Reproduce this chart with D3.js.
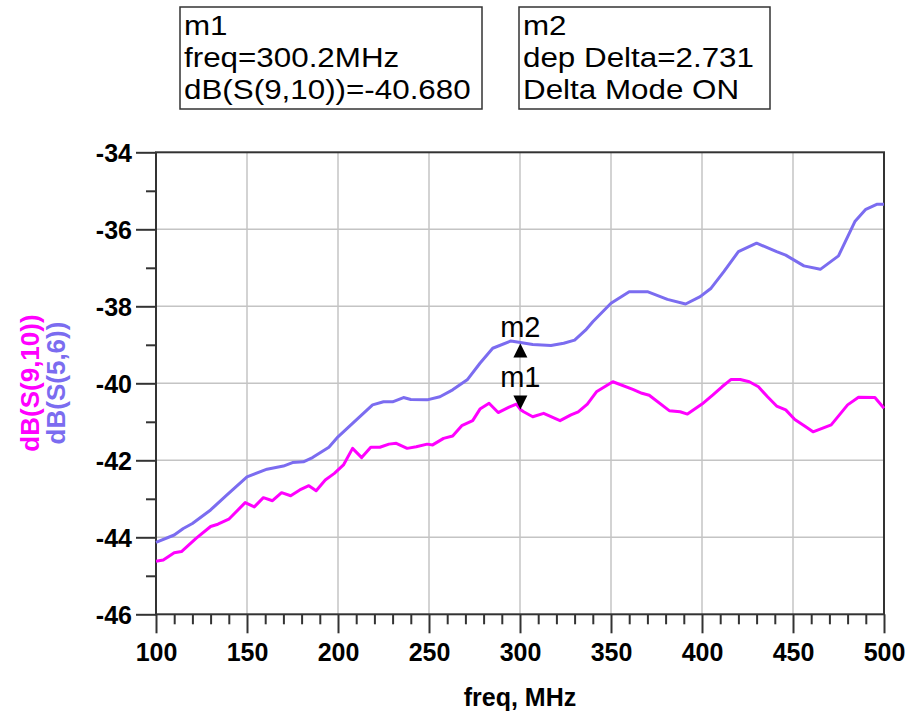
<!DOCTYPE html>
<html><head><meta charset="utf-8">
<script src="https://cdn.jsdelivr.net/npm/d3@7"></script>
<style>
html,body{margin:0;padding:0;background:#fff;}
svg text{font-family:"Liberation Sans",Arial,sans-serif;}
</style></head>
<body>
<svg id="chart" width="910" height="716"></svg>
<script>
// ---- data ----
const freqS910 = [100,104,110,114,122,130,134,140,149,154,159,164,169,174,179,184,188,193,198,203,208,213,218,223,228,232,238,243,249,252,258,263,268,274,278,283,288,294,298,300.2,302,307,313,322,328,332,337,342,351,362,367,371,382,388,392,400,406,411,416,421,426,431,436,441,446,451,457,461,471,480,486,495,500];
const dbS910 = [-44.62,-44.59,-44.40,-44.37,-44.03,-43.72,-43.66,-43.53,-43.10,-43.21,-42.97,-43.05,-42.84,-42.92,-42.77,-42.66,-42.79,-42.51,-42.34,-42.12,-41.69,-41.93,-41.66,-41.66,-41.58,-41.56,-41.69,-41.65,-41.58,-41.60,-41.43,-41.37,-41.10,-40.97,-40.67,-40.52,-40.76,-40.62,-40.54,-40.68,-40.74,-40.87,-40.78,-40.97,-40.82,-40.74,-40.54,-40.22,-39.96,-40.16,-40.26,-40.31,-40.71,-40.74,-40.80,-40.54,-40.30,-40.09,-39.90,-39.90,-39.96,-40.09,-40.35,-40.59,-40.69,-40.94,-41.13,-41.26,-41.08,-40.56,-40.36,-40.37,-40.65];
const freqS56 = [100,110,115,120,130,139,150,161,170,175,181,186,195,200,208,219,225,230,236,240,249,256,263,271,278,285,295,300.2,307,317,324,330,336,340,350,360,370,381,391,399,405,412,420,430,441,446,456,465,475,484,490,496,500];
const dbS56 = [-44.13,-43.94,-43.77,-43.64,-43.29,-42.90,-42.43,-42.23,-42.15,-42.06,-42.04,-41.93,-41.66,-41.39,-41.04,-40.56,-40.48,-40.48,-40.37,-40.42,-40.43,-40.35,-40.17,-39.91,-39.48,-39.09,-38.90,-38.94,-38.99,-39.02,-38.96,-38.88,-38.62,-38.40,-37.92,-37.62,-37.62,-37.82,-37.94,-37.75,-37.53,-37.10,-36.58,-36.36,-36.58,-36.67,-36.95,-37.04,-36.69,-35.80,-35.48,-35.35,-35.35];
const xMajorTicks = [100,150,200,250,300,350,400,450,500];
const xMinorTicks = d3.range(100,501,10);
const yMajorTicks = [-46,-44,-42,-40,-38,-36,-34];
const yMinorTicks = [-45,-43,-41,-39,-37,-35];
const seriesNames = ["dB(S(9,10))","dB(S(5,6))"];
const xTitle = "freq, MHz";
const markerFreq = 300.2;
const marker1Lines = ["m1","freq=300.2MHz","dB(S(9,10))=-40.680"];
const marker2Lines = ["m2","dep Delta=2.731","Delta Mode ON"];

// ---- layout ----
const svg = d3.select("#chart");
const L=156, R=884, T=152.3, B=614.3;
const colMag = "#ff00ff", colBlue = "#7b6cf0";
const x = d3.scaleLinear().domain([100,500]).range([L,R]);
const y = d3.scaleLinear().domain([-46,-34]).range([B,T]);
const fmt = d => String(d);

// grid
const g = svg.append("g");
g.selectAll(".gx").data(xMajorTicks.slice(1,-1)).enter().append("line")
  .attr("x1",d=>x(d)).attr("x2",d=>x(d)).attr("y1",T).attr("y2",B)
  .attr("stroke","#c4c4c4").attr("stroke-width",1.5);
g.selectAll(".gy").data(yMajorTicks.slice(1,-1)).enter().append("line")
  .attr("x1",L).attr("x2",R).attr("y1",d=>y(d)).attr("y2",d=>y(d))
  .attr("stroke","#c4c4c4").attr("stroke-width",1.5);

// minor axes
svg.append("g").attr("transform",`translate(${L},0)`)
  .call(d3.axisLeft(y).tickValues(yMinorTicks).tickSize(10).tickFormat(""))
  .call(a=>a.select(".domain").remove())
  .call(a=>a.selectAll("line").attr("stroke","#333").attr("stroke-width",2));
svg.append("g").attr("transform",`translate(0,${B})`)
  .call(d3.axisBottom(x).tickValues(xMinorTicks.filter(d=>d%50!==0)).tickSize(10).tickFormat(""))
  .call(a=>a.select(".domain").remove())
  .call(a=>a.selectAll("line").attr("stroke","#333").attr("stroke-width",2));

// major axes
svg.append("g").attr("transform",`translate(${L},0)`)
  .call(d3.axisLeft(y).tickValues(yMajorTicks).tickSize(20).tickPadding(4).tickFormat(fmt))
  .call(a=>a.select(".domain").remove())
  .call(a=>a.selectAll("line").attr("stroke","#333").attr("stroke-width",2))
  .call(a=>a.selectAll("text").attr("fill","#000").attr("font-size",25).attr("font-weight","bold")
     .attr("font-family","'Liberation Sans',Arial,sans-serif").attr("dy","0.36em"));
svg.append("g").attr("transform",`translate(0,${B})`)
  .call(d3.axisBottom(x).tickValues(xMajorTicks).tickSize(19).tickPadding(10).tickFormat(fmt))
  .call(a=>a.select(".domain").remove())
  .call(a=>a.selectAll("line").attr("stroke","#333").attr("stroke-width",2))
  .call(a=>a.selectAll("text").attr("fill","#000").attr("font-size",25).attr("font-weight","bold")
     .attr("font-family","'Liberation Sans',Arial,sans-serif").attr("dy","0.71em"));

// frame
svg.append("rect").attr("x",L).attr("y",T).attr("width",R-L).attr("height",B-T)
  .attr("fill","none").attr("stroke","#333").attr("stroke-width",2);

// lines
const line = d3.line().x(d=>x(d[0])).y(d=>y(d[1]));
svg.append("path").datum(d3.zip(freqS56,dbS56)).attr("d",line)
  .attr("fill","none").attr("stroke",colBlue).attr("stroke-width",3).attr("stroke-linejoin","round");
svg.append("path").datum(d3.zip(freqS910,dbS910)).attr("d",line)
  .attr("fill","none").attr("stroke",colMag).attr("stroke-width",3).attr("stroke-linejoin","round");

// markers
const mx = x(markerFreq);
const m1y = y(dbS910[freqS910.indexOf(markerFreq)]);
const m2y = y(dbS56[freqS56.indexOf(markerFreq)]);
svg.append("path").attr("d",`M${mx-7},${m1y-14}L${mx+7},${m1y-14}L${mx},${m1y}Z`).attr("fill","#000");
svg.append("text").attr("x",mx).attr("y",m1y-22).attr("text-anchor","middle").attr("font-size",29).text("m1");
svg.append("path").attr("d",`M${mx-7},${m2y+15}L${mx+7},${m2y+15}L${mx},${m2y+1}Z`).attr("fill","#000");
svg.append("text").attr("x",mx).attr("y",m2y-5).attr("text-anchor","middle").attr("font-size",29).text("m2");

// marker boxes
function box(x0,x1,lines){
  svg.append("rect").attr("x",x0).attr("y",7).attr("width",x1-x0).attr("height",102)
    .attr("fill","#fff").attr("stroke","#333").attr("stroke-width",1.5);
  svg.selectAll(null).data(lines).enter().append("text")
    .attr("x",x0+4).attr("y",(d,i)=>35+i*32).attr("font-size",27.5).attr("fill","#000").text(d=>d)
    .each(function(){
      const w = this.getComputedTextLength();
      d3.select(this).attr("textLength",w*1.14).attr("lengthAdjust","spacingAndGlyphs");
    });
}
box(180,482,marker1Lines);
box(519,770,marker2Lines);

// axis titles
svg.append("text").attr("x",(L+R)/2).attr("y",706).attr("text-anchor","middle")
  .attr("font-size",25).attr("font-weight","bold").text(xTitle);
const yt = svg.append("g");
[[seriesNames[0],colMag,39],[seriesNames[1],colBlue,65]].forEach(([t,c,bx])=>{
  yt.append("text").attr("transform",`translate(${bx},383) rotate(-90)`).attr("text-anchor","middle")
    .attr("font-size",26).attr("font-weight","bold").attr("fill",c).text(t);
});
</script>
</body></html>
